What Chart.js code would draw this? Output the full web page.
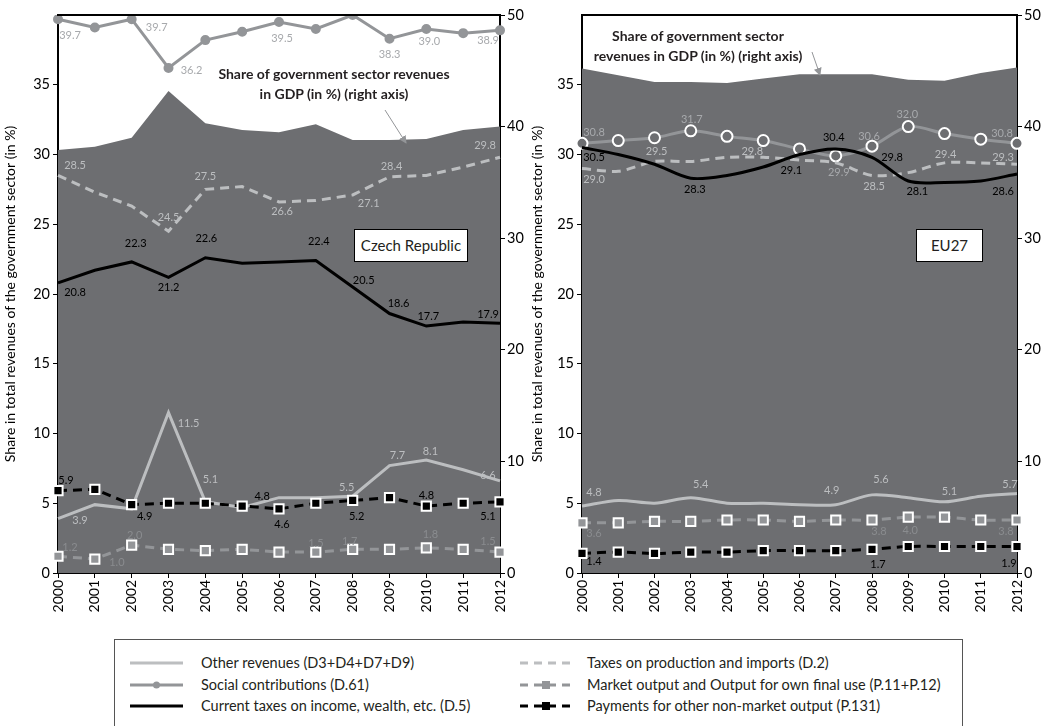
<!DOCTYPE html>
<html>
<head>
<meta charset="utf-8">
<script src="https://cdn.jsdelivr.net/npm/chart.js@4.4.0/dist/chart.umd.min.js"></script>
<style>
  body { margin: 0; background: #fff; font-family: Lato, sans-serif; color: #231f20; }
  #wrap { position: relative; width: 1054px; height: 726px; overflow: hidden; }
  .panel { position: absolute; top: 0; }
  .note { position: absolute; width: 300px; text-align: center; font-size: 14px; font-weight: bold; line-height: 20px; }
  .tag { position: absolute; background: #fff; border: 1px solid #000; font-size: 15px; text-align: center; line-height: 30px; }
  #legend { position: absolute; left: 114px; top: 639px; width: 847px; height: 120px; border: 1px solid #555; }
  .item { position: absolute; font-size: 14.5px; line-height: 16px; white-space: nowrap; }
  .item svg { position: absolute; top: 3px; }
  .item span { position: absolute; top: 0; }
</style>
</head>
<body>
<div id="wrap">
  <canvas id="cz" class="panel" width="527" height="630" style="left:0"></canvas>
  <canvas id="eu" class="panel" width="527" height="630" style="left:527px"></canvas>

  <div class="note" style="left:184px; top:64px">Share of government sector revenues<br>in GDP (in %) (right axis)</div>
  <div class="note" style="left:548px; top:26px">Share of government sector<br>revenues in GDP (in %) (right axis)</div>
  <svg style="position:absolute;left:0;top:0" width="1054" height="630">
    <defs>
      <marker id="ah" markerWidth="8" markerHeight="8" refX="7" refY="4" orient="auto" markerUnits="userSpaceOnUse">
        <path d="M0,0 L8,4 L0,8 z" fill="#939598"/>
      </marker>
    </defs>
    <line x1="385" y1="110" x2="406" y2="143" stroke="#939598" stroke-width="1" marker-end="url(#ah)"/>
    <line x1="812" y1="52" x2="820" y2="75" stroke="#939598" stroke-width="1" marker-end="url(#ah)"/>
  </svg>
  <div class="tag" style="left:354px; top:229px; width:112px; height:31px">Czech Republic</div>
  <div class="tag" style="left:916px; top:229px; width:65px; height:31px">EU27</div>

  <div id="legend"></div>
</div>
<script>
var years = ['2000', '2001', '2002', '2003', '2004', '2005', '2006', '2007', '2008', '2009', '2010', '2011', '2012'];

// Czech Republic
var czGdpShare   = [37.9, 38.2, 39.0, 43.2, 40.3, 39.7, 39.5, 40.2, 38.8, 38.8, 38.9, 39.7, 40.0];
var czSocial     = [39.7, 39.1, 39.7, 36.2, 38.2, 38.8, 39.5, 39.0, 40.0, 38.3, 39.0, 38.7, 38.9];
var czProdTax    = [28.5, 27.3, 26.3, 24.5, 27.5, 27.7, 26.6, 26.7, 27.1, 28.4, 28.5, 29.1, 29.8];
var czIncomeTax  = [20.8, 21.7, 22.3, 21.2, 22.6, 22.2, 22.3, 22.4, 20.5, 18.6, 17.7, 18.0, 17.9];
var czOther      = [3.9, 4.9, 4.6, 11.5, 5.1, 4.7, 5.4, 5.4, 5.5, 7.7, 8.1, 7.4, 6.6];
var czNonMarket  = [5.9, 6.0, 4.9, 5.0, 5.0, 4.8, 4.6, 5.0, 5.2, 5.4, 4.8, 5.0, 5.1];
var czMarket     = [1.2, 1.0, 2.0, 1.7, 1.6, 1.7, 1.5, 1.5, 1.7, 1.7, 1.8, 1.7, 1.5];

// EU27
var euGdpShare   = [45.2, 44.6, 44.0, 44.0, 43.9, 44.3, 44.7, 44.7, 44.7, 44.2, 44.1, 44.8, 45.3];
var euSocial     = [30.8, 31.0, 31.2, 31.7, 31.3, 31.0, 30.4, 29.9, 30.6, 32.0, 31.5, 31.1, 30.8];
var euProdTax    = [29.0, 28.8, 29.5, 29.5, 29.8, 29.8, 29.6, 29.4, 28.5, 28.7, 29.4, 29.4, 29.3];
var euIncomeTax  = [30.5, 30.0, 29.3, 28.3, 28.5, 29.1, 30.0, 30.4, 29.8, 28.1, 28.0, 28.1, 28.6];
var euOther      = [4.8, 5.2, 5.0, 5.4, 5.0, 5.0, 4.9, 4.9, 5.6, 5.4, 5.1, 5.5, 5.7];
var euMarket     = [3.6, 3.6, 3.7, 3.7, 3.8, 3.8, 3.7, 3.8, 3.8, 4.0, 4.0, 3.8, 3.8];
var euNonMarket  = [1.4, 1.5, 1.4, 1.5, 1.5, 1.6, 1.6, 1.6, 1.7, 1.9, 1.9, 1.9, 1.9];

var names = [
  'Other revenues (D3+D4+D7+D9)',
  'Social contributions (D.61)',
  'Current taxes on income, wealth, etc. (D.5)',
  'Taxes on production and imports (D.2)',
  'Market output and Output for own final use (P.11+P.12)',
  'Payments for other non-market output (P.131)'
];

var AREA = '#6d6e71', LIGHT = '#bcbec0', MID = '#939598';
Chart.defaults.font.family = 'Lato';
Chart.defaults.color = '#000';

// value labels next to chosen points: [index, dx, dy]
var pointLabels = {
  id: 'pointLabels',
  afterDatasetsDraw: function (chart) {
    var ctx = chart.ctx;
    chart.data.datasets.forEach(function (ds, i) {
      if (!ds.marks) return;
      var meta = chart.getDatasetMeta(i);
      ctx.save();
      ctx.font = '11px Lato';
      ctx.fillStyle = ds.markColor;
      ctx.textAlign = 'center';
      ctx.textBaseline = 'middle';
      ds.marks.forEach(function (m) {
        var p = meta.data[m[0]];
        ctx.fillText(ds.data[m[0]].toFixed(1), p.x + m[1], p.y + m[2]);
      });
      ctx.restore();
    });
  }
};

var frame = {
  id: 'frame',
  afterDraw: function (chart) {
    var a = chart.chartArea, ctx = chart.ctx;
    ctx.save();
    ctx.strokeStyle = '#000';
    ctx.lineWidth = 2;
    ctx.beginPath();
    ctx.moveTo(a.left - 1, a.top);
    ctx.lineTo(a.right + 1, a.top);
    ctx.stroke();
    ctx.restore();
  }
};

function makeChart(id, d, opt) {
  var dash = [9, 6];
  var ln = { borderWidth: 3, pointRadius: 0, tension: opt.tension, yAxisID: 'y' };
  var datasets = [
    Object.assign({}, ln, { label: names[5], data: d.nonMarket, borderColor: '#000', borderDash: dash,
      pointStyle: 'rect', pointRadius: 6.5, pointBackgroundColor: '#000', pointBorderColor: '#fff', pointBorderWidth: 2,
      marks: opt.marks.nonMarket, markColor: '#000' }),
    Object.assign({}, ln, { label: names[4], data: d.market, borderColor: MID, borderDash: dash,
      pointStyle: 'rect', pointRadius: 6.5, pointBackgroundColor: MID, pointBorderColor: '#fff', pointBorderWidth: 2,
      marks: opt.marks.market, markColor: '#8a8c8f' }),
    Object.assign({}, ln, { label: names[2], data: d.income, borderColor: '#000',
      marks: opt.marks.income, markColor: '#000' }),
    Object.assign({}, ln, { label: names[0], data: d.other, borderColor: LIGHT,
      marks: opt.marks.other, markColor: LIGHT }),
    Object.assign({}, ln, { label: names[3], data: d.prod, borderColor: LIGHT, borderDash: dash,
      marks: opt.marks.prod, markColor: LIGHT }),
    Object.assign({}, ln, { label: names[1], data: d.social, borderColor: MID,
      pointStyle: 'circle', pointRadius: opt.socialRadius, pointBackgroundColor: opt.socialFill,
      pointBorderColor: opt.socialBorder, pointBorderWidth: 2,
      marks: opt.marks.social, markColor: '#a7a9ac' }),
    { label: 'Share of government sector revenues in GDP (in %)', data: d.gdp, yAxisID: 'y1',
      fill: 'origin', backgroundColor: AREA, borderWidth: 0, pointRadius: 0, tension: 0, order: 10 }
  ];
  return new Chart(document.getElementById(id), {
    type: 'line',
    data: { labels: years, datasets: datasets },
    options: {
      responsive: false,
      animation: false,
      layout: { padding: { top: 15 } },
      plugins: { legend: { display: false }, tooltip: { enabled: false } },
      scales: {
        x: {
          offset: false,
          grid: { drawOnChartArea: false, color: '#000', tickLength: 5, tickWidth: 1 },
          border: { color: '#000', width: 2 },
          ticks: { minRotation: 90, maxRotation: 90, font: { size: 14 }, padding: 2 },
          afterFit: function (s) { s.height = 57; }
        },
        y: {
          position: 'left', min: 0, max: 40,
          grid: { drawOnChartArea: false, color: '#000', tickLength: 5 },
          border: { color: '#000', width: 2 },
          ticks: { stepSize: 5, font: { size: 14.5 }, padding: 3 },
          afterBuildTicks: function (s) { s.ticks = s.ticks.filter(function (t) { return t.value < 40; }); },
          title: { display: true, text: 'Share in total revenues of the government sector (in %)', font: { size: 14 }, padding: { top: 2, bottom: 0 } },
          afterFit: function (s) { s.width = opt.leftW; }
        },
        y1: {
          position: 'right', min: 0, max: 50,
          grid: { drawOnChartArea: false, color: '#000', tickLength: 5 },
          border: { color: '#000', width: 2 },
          ticks: { stepSize: 10, font: { size: 14.5 }, padding: 2 },
          afterFit: function (s) { s.width = opt.rightW; }
        }
      }
    },
    plugins: [pointLabels, frame]
  });
}

makeChart('cz', {
  gdp: czGdpShare, social: czSocial, prod: czProdTax, income: czIncomeTax,
  other: czOther, nonMarket: czNonMarket, market: czMarket
}, {
  tension: 0, leftW: 58, rightW: 27,
  socialRadius: 4, socialFill: MID, socialBorder: MID,
  marks: {
    social: [[0, 12, 16], [2, 25, 8], [3, 23, 2], [6, 3, 16], [9, 0, 16], [10, 3, 13], [12, -12, 10]],
    prod: [[0, 17, -10], [3, 0, -14], [4, 0, -13], [6, 3, 10], [8, 16, 8], [9, 2, -10], [12, -15, -12]],
    income: [[0, 17, 10], [2, 4, -18], [3, 0, 10], [4, 1, -19], [7, 3, -19], [8, 11, -7], [9, 9, -10], [10, 2, -10], [12, -12, -9]],
    other: [[0, 22, 2], [3, 20, 11], [4, 5, -22], [8, -6, -9], [9, 8, -10], [10, 4, -9], [12, -12, -5]],
    nonMarket: [[0, 8, -10], [2, 13, 12], [5, 20, -10], [6, 3, 16], [8, 4, 16], [10, 0, -11], [12, -12, 15]],
    market: [[0, 12, -9], [1, 22, 3], [2, 3, -10], [7, 0, -9], [8, -3, -8], [10, 4, -13], [12, -12, -11]]
  }
});

makeChart('eu', {
  gdp: euGdpShare, social: euSocial, prod: euProdTax, income: euIncomeTax,
  other: euOther, nonMarket: euNonMarket, market: euMarket
}, {
  tension: 0.3, leftW: 55, rightW: 37,
  socialRadius: 5.5, socialFill: AREA, socialBorder: '#fff',
  marks: {
    social: [[0, 12, -11], [3, 1, -11], [7, 3, 17], [8, -3, -10], [9, -1, -12], [12, -15, -10]],
    prod: [[0, 12, 11], [2, 2, -10], [5, -11, -6], [8, 2, 11], [10, 1, -8], [12, -14, -7]],
    income: [[0, 12, 10], [3, 4, 11], [5, 28, 3], [7, -2, -11], [8, 20, 0], [9, 9, 10], [12, -14, 17]],
    other: [[0, 12, -14], [3, 10, -13], [7, -4, -14], [8, 9, -15], [10, 5, -10], [12, -7, -9]],
    market: [[0, 12, 11], [8, 7, 11], [9, 2, 13], [12, -11, 11]],
    nonMarket: [[0, 12, 8], [8, 6, 15], [12, -8, 17]]
  }
});

// legend
var samples = [
  '<line x1="0" y1="5" x2="53" y2="5" stroke="' + LIGHT + '" stroke-width="3"/>',
  '<line x1="0" y1="5" x2="53" y2="5" stroke="' + MID + '" stroke-width="3"/><circle cx="26.5" cy="5" r="3.5" fill="' + MID + '"/>',
  '<line x1="0" y1="5" x2="53" y2="5" stroke="#000" stroke-width="3"/>',
  '<line x1="0" y1="5" x2="52" y2="5" stroke="' + LIGHT + '" stroke-width="3" stroke-dasharray="8 6"/>',
  '<line x1="0" y1="5" x2="52" y2="5" stroke="' + MID + '" stroke-width="3" stroke-dasharray="8 6"/><rect x="22" y="1" width="8" height="8" fill="' + MID + '"/>',
  '<line x1="0" y1="5" x2="52" y2="5" stroke="#000" stroke-width="3" stroke-dasharray="8 6"/><rect x="22" y="1" width="8" height="8" fill="#000"/>'
];
var legend = document.getElementById('legend');
var html = '';
names.forEach(function (n, i) {
  var col = i < 3 ? 0 : 1, row = i % 3;
  var left = col ? 405 : 15, top = 15 + row * 21.5;
  html += '<div class="item" style="left:' + left + 'px;top:' + top + 'px">' +
    '<svg width="53" height="10">' + samples[i] + '</svg>' +
    '<span style="left:' + (col ? 67 : 71) + 'px">' + n + '</span></div>';
});
legend.innerHTML = html;
</script>
</body>
</html>
